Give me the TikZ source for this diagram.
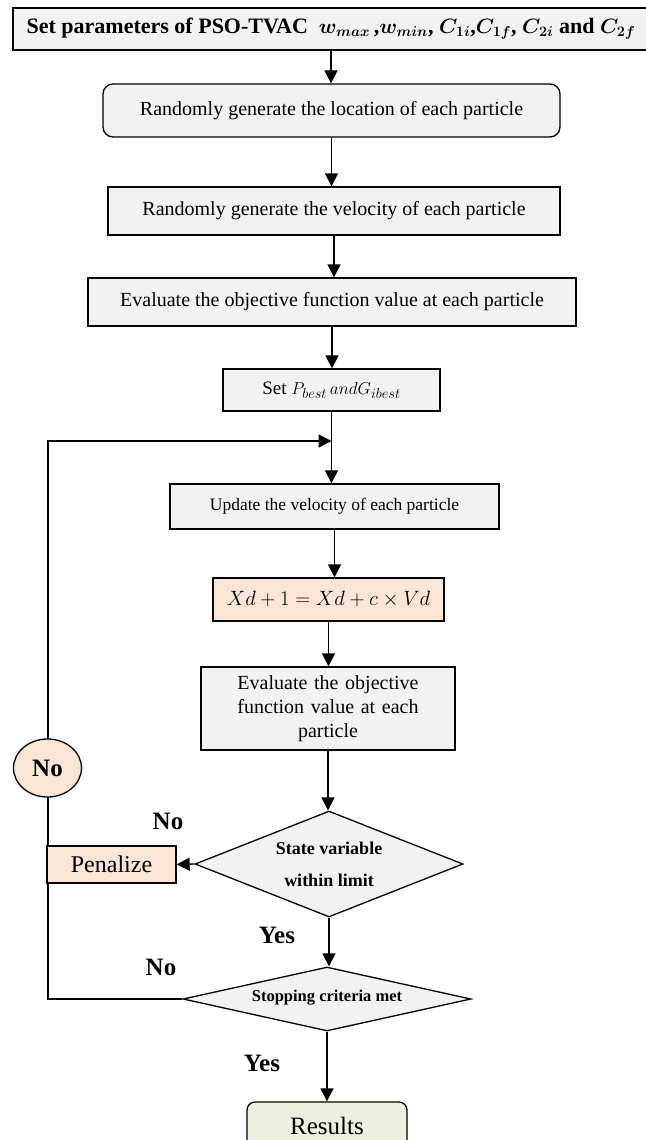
\documentclass[tikz,border=0pt]{standalone}
\usepackage{fontspec}
\setmainfont{Liberation Serif}
\usetikzlibrary{shapes.geometric,arrows.meta,backgrounds}
\definecolor{boxgray}{HTML}{F2F2F2}
\definecolor{peach}{HTML}{FBE5D6}
\definecolor{sage}{HTML}{EBF1DE}
\begin{document}
\begin{tikzpicture}[x=1pt,y=-1pt,
  base/.style={draw, line width=1.3pt, inner sep=2pt, align=center},
  gbox/.style={base, fill=boxgray},
  pbox/.style={base, fill=peach},
  decision/.style={base, diamond, fill=boxgray, aspect=2.5, inner sep=0pt},
  txt/.style={font=\fontsize{20}{23}\selectfont},
  arr/.style={line width=1.3pt, -{Triangle[width=13pt,length=13pt]}},
  tag/.style={font=\bfseries\fontsize{25}{28}\selectfont}]
\useasboundingbox (0,0) rectangle (645,1140);

% process steps
\node[gbox, minimum width=636pt, minimum height=42pt,
      font=\bfseries\boldmath\fontsize{22}{25}\selectfont] (top) at (331,29)
  {Set parameters of PSO-TVAC\ \ $w_{max}$\,,$w_{min}$, $C_{1i}$,$C_{1f}$, $C_{2i}$ and $C_{2f}$};
\node[gbox, txt, rounded corners=10pt, minimum width=457pt, minimum height=53pt] (loc) at (331.5,110.5)
  {Randomly generate the location of each particle};
\node[gbox, txt, minimum width=452pt, minimum height=48pt] (vel) at (334,211)
  {Randomly generate the velocity of each particle};
\node[gbox, txt, minimum width=488pt, minimum height=48pt] (ev1) at (332,302)
  {Evaluate the objective function value at each particle};
\node[gbox, font=\fontsize{19}{22}\selectfont, minimum width=217pt, minimum height=42pt] (best) at (331.5,390)
  {Set $P_{best}\, and G_{ibest}$};
\node[gbox, font=\fontsize{17.5}{20}\selectfont, minimum width=329pt, minimum height=45pt] (upd) at (334.5,506.5)
  {Update the velocity of each particle};
\node[pbox, font=\fontsize{20.5}{23}\selectfont, minimum width=231pt, minimum height=43pt] (form) at (328.5,599.5)
  {$Xd+1=Xd+c\times Vd$};
\node[gbox, font=\fontsize{20}{24}\selectfont, text width=246pt, minimum width=254pt, minimum height=83pt] (ev2) at (328,708.5)
  {Evaluate the objective\\function value at each\\particle};

% decisions
\node[decision, minimum width=268pt, minimum height=106pt,
      font=\bfseries\fontsize{18}{32}\selectfont] (d1) at (329,864)
  {State variable\\within limit};
% the one-line text is smashed so the outline keeps its given size
\node[decision, minimum width=288pt, minimum height=64pt,
      font=\bfseries\fontsize{16.5}{19}\selectfont] (d2) at (327,999)
  {\makebox[0pt]{\raisebox{-0.33em}{\smash{Stopping criteria met}}}};

% side and final nodes
\node[pbox, font=\fontsize{24}{27}\selectfont, minimum width=129pt, minimum height=37pt, inner sep=0pt] (pen) at (111.5,864.5)
  {Penalize};
\node[base, ellipse, fill=peach, minimum width=68pt, minimum height=58pt, inner sep=0pt,
      font=\bfseries\fontsize{25}{28}\selectfont] (no) at (47.5,768) {No};
\node[base, fill=sage, rounded corners=8pt, minimum width=160pt, minimum height=48pt,
      font=\fontsize{25}{28}\selectfont] (res) at (327,1126) {Results};

% main flow
\draw[arr] (top.south) -- (top.south |- loc.north);
\draw[arr] (loc.south) -- (loc.south |- vel.north);
\draw[arr] (vel.south) -- (vel.south |- ev1.north);
\draw[arr] (ev1.south) -- (ev1.south |- best.north);
\draw[arr] (best.south) -- (best.south |- upd.north);
\draw[arr] (upd.south) -- (upd.south |- form.north);
\draw[arr] (form.south) -- (form.south |- ev2.north);
\draw[arr] (ev2.south) -- (ev2.south |- d1.north);
\draw[arr] (d1.south) -- (d1.south |- d2.north);
\draw[arr] (d2.south) -- (d2.south |- res.north);
\draw[arr] (d1.west) -- (pen.east);

% return loop behind the nodes
\coordinate (lowcorner) at (48,999);
\coordinate (highcorner) at (48,441);
\begin{pgfonlayer}{background}
\draw[arr] (d2.west) -- (lowcorner) -- (highcorner) -- (best.south |- highcorner);
\end{pgfonlayer}

% branch labels
\node[tag] (noa) at (168,821) {No};
\node[tag] (yesa) at (277,935) {Yes};
\node[tag] (nob) at (161,967) {No};
\node[tag] (yesb) at (262,1063) {Yes};
\end{tikzpicture}
\end{document}
